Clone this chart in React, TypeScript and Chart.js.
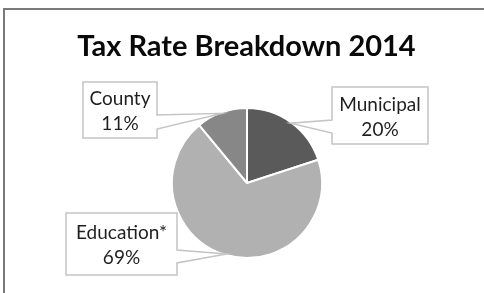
import React, { useEffect, useRef } from "react";
import { Chart, registerables } from "chart.js";

Chart.register(...registerables);

const titleText = "Tax Rate Breakdown 2014";
const categories = ["Municipal", "Education*", "County"];
const values = [20, 69, 11];
const sliceColors = ["#5a5a5a", "#b1b1b1", "#878787"];

// callout box layout (positions only, not data)
const calloutBoxes = [
  { x: 332, y: 87, w: 96, h: 57, side: "left", b1: 120, b2: 133 },
  { x: 66, y: 213, w: 111, h: 62, side: "right", b1: 250, b2: 263 },
  { x: 83, y: 82, w: 74, h: 56, side: "right", b1: 115, b2: 129 },
];

const LABEL_FONT = "19px Lato, 'Open Sans', sans-serif";
const TITLE_FONT = "bold 29px Lato, 'Open Sans', sans-serif";

const decorPlugin = {
  id: "decor",
  beforeDraw(chart: any) {
    const ctx = chart.ctx;
    ctx.save();
    ctx.fillStyle = "#ffffff";
    ctx.fillRect(0, 0, chart.width, chart.height);
    ctx.strokeStyle = "#7a7a7a";
    ctx.lineWidth = 2;
    ctx.beginPath();
    ctx.moveTo(4, chart.height);
    ctx.lineTo(4, 9);
    ctx.lineTo(chart.width, 9);
    ctx.stroke();
    ctx.fillStyle = "#0a0a0a";
    ctx.font = TITLE_FONT;
    ctx.textAlign = "center";
    ctx.textBaseline = "alphabetic";
    ctx.fillText(titleText, 246.5, 55.5);
    ctx.restore();
  },
  afterDraw(chart: any) {
    const ctx = chart.ctx;
    const meta = chart.getDatasetMeta(0);
    const data = chart.data.datasets[0].data as number[];
    const total = data.reduce((a, b) => a + b, 0);
    ctx.save();
    meta.data.forEach((arc: any, i: number) => {
      const box = calloutBoxes[i];
      if (!box) return;
      const p = arc.getProps(["x", "y", "startAngle", "endAngle", "outerRadius"], true);
      const mid = (p.startAngle + p.endAngle) / 2;
      const r = p.outerRadius - 1;
      const tx = p.x + Math.cos(mid) * r;
      const ty = p.y + Math.sin(mid) * r;
      const { x, y, w, h } = box;
      ctx.beginPath();
      ctx.moveTo(x, y);
      ctx.lineTo(x + w, y);
      if (box.side === "right") {
        ctx.lineTo(x + w, box.b1);
        ctx.lineTo(tx, ty);
        ctx.lineTo(x + w, box.b2);
      }
      ctx.lineTo(x + w, y + h);
      ctx.lineTo(x, y + h);
      if (box.side === "left") {
        ctx.lineTo(x, box.b2);
        ctx.lineTo(tx, ty);
        ctx.lineTo(x, box.b1);
      }
      ctx.closePath();
      ctx.fillStyle = "#ffffff";
      ctx.fill();
      ctx.strokeStyle = "#c4c4c4";
      ctx.lineWidth = 1.5;
      ctx.stroke();

      const cx = x + w / 2;
      const cy = y + h / 2;
      ctx.fillStyle = "#1f1f1f";
      ctx.font = LABEL_FONT;
      ctx.textAlign = "center";
      ctx.textBaseline = "alphabetic";
      ctx.fillText(String(chart.data.labels[i]), cx, cy - 5);
      ctx.fillText(Math.round((data[i] / total) * 100) + "%", cx, cy + 20);
    });
    ctx.restore();
  },
};

export default function App() {
  const ref = useRef<HTMLCanvasElement | null>(null);
  useEffect(() => {
    document.body.style.margin = "0";
    if (!ref.current) return;
    const chart = new Chart(ref.current, {
      type: "pie",
      data: {
        labels: categories,
        datasets: [
          {
            data: values,
            backgroundColor: sliceColors,
            borderColor: "#ffffff",
            borderWidth: 2,
          },
        ],
      },
      options: {
        animation: false,
        responsive: false,
        devicePixelRatio: 1,
        layout: { padding: { top: 107, bottom: 34, left: 10, right: 0 } },
        plugins: {
          legend: { display: false },
          title: { display: false },
          tooltip: { enabled: false },
        },
      },
      plugins: [decorPlugin],
    });
    return () => chart.destroy();
  }, []);
  return (
    <div style={{ width: 484, height: 293 }}>
      <canvas ref={ref} width={484} height={293} style={{ display: "block" }} />
    </div>
  );
}
